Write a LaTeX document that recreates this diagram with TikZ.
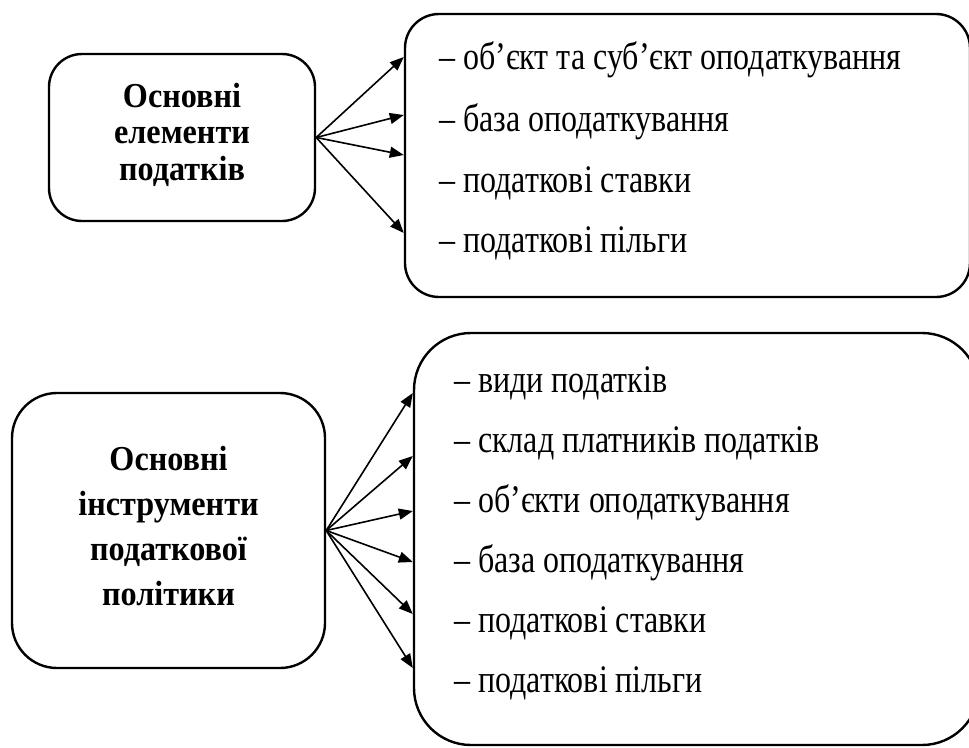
\documentclass[tikz,border=0pt]{standalone}
\usepackage{fontspec}
\setmainfont{Liberation Serif}[FakeStretch=0.82]
\newfontfamily\headfont{Liberation Serif}[FakeStretch=0.92]
\usetikzlibrary{arrows.meta}
\tikzset{
 headbox/.style={draw,line width=2.4pt,inner sep=0},
 listbox/.style={draw,line width=2.4pt,inner sep=0},
 headtext/.style={anchor=north,inner sep=0,align=center},
 item/.style={anchor=base west,inner sep=0,font=\fontsize{39}{46}\selectfont},
 link/.style={line width=1.6pt,-{Triangle[length=14pt,width=11pt]}}
}
\begin{document}
\begin{tikzpicture}[x=1pt,y=-1pt]
\clip (0,0) rectangle (969,747);
% upper group
\node[headbox,rounded corners=33pt,minimum width=266pt,minimum height=167pt] (elem) at (182,137.5) {};
\node[headtext,font=\headfont\bfseries\fontsize{35}{36.5}\selectfont] (elemtext) at (182,83) {Основні\\елементи\\податків};
\node[listbox,rounded corners=34pt,minimum width=565pt,minimum height=283pt] (elist) at (687.5,155.5) {};
\node[item] (e1) at (439,69) {– об’єкт та суб’єкт оподаткування};
\node[item] (e2) at (439,131) {– база оподаткування};
\node[item] (e3) at (439,192) {– податкові ставки};
\node[item] (e4) at (439,252) {– податкові пільги};
\coordinate (ea) at (elist.west |- 0,57);
\coordinate (eb) at (elist.west |- 0,115);
\coordinate (ec) at (elist.west |- 0,155);
\coordinate (ed) at (elist.west |- 0,233);
\draw[link] (elem.east) -- (ea);
\draw[link] (elem.east) -- (eb);
\draw[link] (elem.east) -- (ec);
\draw[link] (elem.east) -- (ed);
% lower group
\node[headbox,rounded corners=45pt,minimum width=313pt,minimum height=275pt] (tool) at (168.5,530.5) {};
\node[headtext,font=\headfont\bfseries\fontsize{35}{45}\selectfont] (tooltext) at (168.5,446) {Основні\\інструменти\\податкової\\політики};
\node[listbox,rounded corners=57pt,minimum width=565pt,minimum height=412pt] (tlist) at (696.5,539) {};
\node[item] (t1) at (454,392) {– види податків};
\node[item] (t2) at (454,452) {– склад платників податків};
\node[item] (t3) at (454,512) {– об’єкти оподаткування};
\node[item] (t4) at (454,572) {– база оподаткування};
\node[item] (t5) at (454,632) {– податкові ставки};
\node[item] (t6) at (454,692) {– податкові пільги};
\coordinate (ta) at (tlist.west |- 0,393);
\coordinate (tb) at (tlist.west |- 0,456);
\coordinate (tc) at (tlist.west |- 0,511);
\coordinate (td) at (tlist.west |- 0,562);
\coordinate (te) at (tlist.west |- 0,614);
\coordinate (tf) at (tlist.west |- 0,668);
\draw[link] (tool.east) -- (ta);
\draw[link] (tool.east) -- (tb);
\draw[link] (tool.east) -- (tc);
\draw[link] (tool.east) -- (td);
\draw[link] (tool.east) -- (te);
\draw[link] (tool.east) -- (tf);
\end{tikzpicture}
\end{document}
